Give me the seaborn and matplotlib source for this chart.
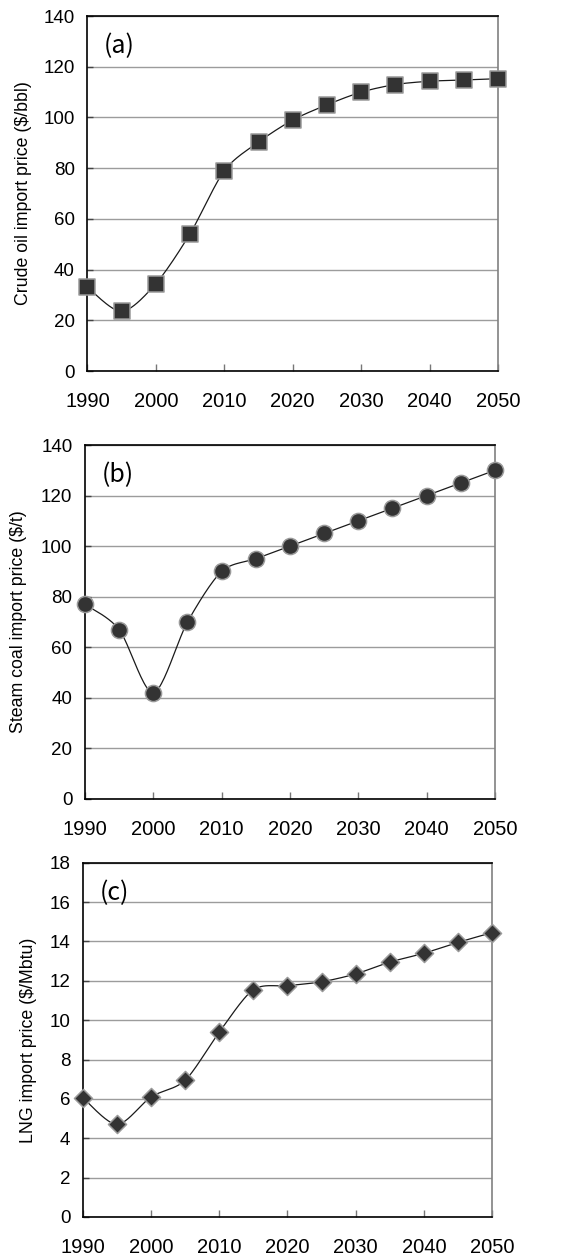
import numpy as np
import pandas as pd
import matplotlib
matplotlib.use("Agg")
import matplotlib.pyplot as plt
import seaborn as sns

# Import price projections, 1990-2050
years = [1990, 1995, 2000, 2005, 2010, 2015, 2020, 2025, 2030, 2035, 2040, 2045, 2050]
crude_oil = [33, 23.5, 34.5, 54.2, 79, 90.3, 99, 105, 110, 113, 114.3, 114.8, 115.3]
steam_coal = [77, 67, 42, 70, 90, 95, 100, 105, 110, 115, 120, 125, 130]
lng = [6.05, 4.7, 6.1, 6.95, 9.4, 11.55, 11.75, 11.95, 12.35, 12.95, 13.4, 13.95, 14.45]

panel_tags = ["(a)", "(b)", "(c)"]
y_labels = ["Crude oil import price ($/bbl)",
            "Steam coal import price ($/t)",
            "LNG import price ($/Mbtu)"]
y_limits = [(0, 140), (0, 140), (0, 18)]
y_steps = [20, 20, 2]
x_ticks = [1990, 2000, 2010, 2020, 2030, 2040, 2050]

sns.set_theme(style="white")
plt.rcParams["font.family"] = ["Liberation Sans", "DejaVu Sans"]


def smooth_curve(x, y, n=24, tension=1 / 7.0):
    """Bezier-smoothed path through the points (x, y)."""
    x = np.asarray(x, float)
    y = np.asarray(y, float)
    px = np.concatenate([[x[0]], x, [x[-1]]])
    py = np.concatenate([[y[0]], y, [y[-1]]])
    xs, ys = [], []
    t = np.linspace(0, 1, n, endpoint=False)
    for i in range(1, len(px) - 2):
        p0, p1, p2, p3 = (np.array([px[j], py[j]]) for j in (i - 1, i, i + 1, i + 2))
        c1 = p1 + (p2 - p0) * tension
        c2 = p2 - (p3 - p1) * tension
        b = ((1 - t) ** 3)[:, None] * p1 + (3 * (1 - t) ** 2 * t)[:, None] * c1 \
            + (3 * (1 - t) * t ** 2)[:, None] * c2 + (t ** 3)[:, None] * p2
        xs.append(b[:, 0]); ys.append(b[:, 1])
    xs.append([x[-1]]); ys.append([y[-1]])
    return np.concatenate(xs), np.concatenate(ys)


fig = plt.figure(figsize=(5.86, 12.56), dpi=100)
rects = [
    [0.1493, 0.7046, 0.7005, 0.2826],
    [0.1450, 0.3639, 0.6997, 0.2818],
    [0.1416, 0.0311, 0.6980, 0.2820],
]
series = [crude_oil, steam_coal, lng]
markers = ["s", "o", "D"]
sizes = [125, 135, 85]
label_x = [-0.135, -0.141, -0.112]

for k in range(3):
    ax = fig.add_axes(rects[k])
    df = pd.DataFrame({"year": years, "price": series[k]})
    sx, sy = smooth_curve(df["year"], df["price"])
    sns.lineplot(x=sx, y=sy, ax=ax, color="#1a1a1a", lw=0.9, sort=False,
                 estimator=None, zorder=3)
    sns.scatterplot(data=df, x="year", y="price", ax=ax, marker=markers[k],
                    s=sizes[k], color="#333333", edgecolor="#9a9a9a",
                    linewidth=1.1, zorder=4, clip_on=False)

    ax.set_xlim(1990, 2050)
    ax.set_ylim(*y_limits[k])
    ax.set_yticks(np.arange(y_limits[k][0], y_limits[k][1] + 0.001, y_steps[k]))
    ax.set_xticks(x_ticks)
    ax.yaxis.grid(True, color="#9c9c9c", lw=1.0)
    ax.xaxis.grid(False)
    ax.set_axisbelow(True)

    ax.tick_params(axis="x", direction="in", length=5, width=1.0,
                   color="#777777", pad=15, labelsize=14.5, bottom=True)
    ax.tick_params(axis="y", direction="in", length=4, width=1.0,
                   color="#444444", pad=9, labelsize=13.5, left=True)
    for t in ax.get_xticklabels() + ax.get_yticklabels():
        t.set_color("black")

    for side in ["left", "bottom", "top"]:
        ax.spines[side].set_color("black")
        ax.spines[side].set_linewidth(1.2)
    ax.spines["right"].set_color("#808080")
    ax.spines["right"].set_linewidth(1.2)

    ax.set_xlabel("")
    ax.set_ylabel(y_labels[k], fontsize=12.8, color="black")
    ax.yaxis.set_label_coords(label_x[k], 0.5)

    ax.text(0.04, 0.915, panel_tags[k], transform=ax.transAxes, fontsize=18,
            va="center", ha="left", color="black",
            family=["Noto Sans CJK JP", "DejaVu Sans"])

fig.savefig("out.png", dpi=100)
